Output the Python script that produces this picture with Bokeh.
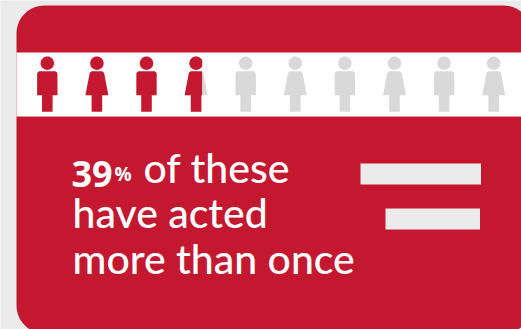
import math

from bokeh.core.properties import value
from bokeh.embed import file_html
from bokeh.models import Range1d
from bokeh.plotting import figure
from bokeh.resources import INLINE

# Chart content
share_percent = 39
person_count = 10
person_kinds = ["m", "f", "m", "f", "m", "f", "m", "f", "m", "f"]
bar_lengths = [120.5, 94.5]
bar_right_edges = [480.5, 479.5]
bar_tops = [163, 208]
bar_thickness = 21

PAGE_W, PAGE_H = 521, 329
RED = "#c41831"
GREY = "#d9d9d9"
PALE = "#ebebeb"
WHITE = "#ffffff"
FONT = "Lato Medium, Lato"
FIGURE_FONT = "Open Sans"

p = figure(
    width=PAGE_W,
    height=PAGE_H,
    x_range=Range1d(0, PAGE_W),
    y_range=Range1d(PAGE_H, 0),
    x_axis_type=None,
    y_axis_type=None,
    toolbar_location=None,
    output_backend="svg",
    min_border=0,
    outline_line_color=None,
    background_fill_color=PALE,
    border_fill_color=PALE,
)
p.grid.visible = False


def arc(cx, cy, r, start_deg, end_deg, steps=14):
    pts = []
    for i in range(steps + 1):
        a = math.radians(start_deg + (end_deg - start_deg) * i / steps)
        pts.append((cx + r * math.cos(a), cy + r * math.sin(a)))
    return pts


def rounded_rect(x0, y0, x1, y1, r):
    pts = []
    pts += arc(x0 + r, y0 + r, r, 180, 270)
    pts += arc(x1 - r, y0 + r, r, 270, 360)
    pts += arc(x1 - r, y1 - r, r, 0, 90)
    pts += arc(x0 + r, y1 - r, r, 90, 180)
    return pts


def clip_right(pts, edge):
    """Keep the part of a polygon that lies left of a vertical edge."""
    out = []
    for i, (ax, ay) in enumerate(pts):
        bx, by = pts[(i + 1) % len(pts)]
        if ax <= edge:
            out.append((ax, ay))
        if (ax <= edge) != (bx <= edge):
            t = (edge - ax) / (bx - ax)
            out.append((edge, ay + t * (by - ay)))
    return out


HEAD_Y, HEAD_R = 62.7, 6.7
BODY_TOP, BODY_BOTTOM, LEG_BOTTOM = 70.7, 94.7, 111.3
LEG_HALF, SHOULDER_R = 5.3, 3.0


def person_shapes(cx, kind):
    head = arc(cx, HEAD_Y, HEAD_R, 0, 360, 40)[:-1]
    if kind == "m":
        top, hem = 10.2, 10.2
    else:
        top, hem = 7.4, 11.5
    body = arc(cx - top + SHOULDER_R, BODY_TOP + SHOULDER_R, SHOULDER_R, 190, 270, 6)
    body += arc(cx + top - SHOULDER_R, BODY_TOP + SHOULDER_R, SHOULDER_R, 270, 350, 6)
    body += [
        (cx + hem, BODY_BOTTOM),
        (cx + LEG_HALF, BODY_BOTTOM),
        (cx + LEG_HALF, LEG_BOTTOM),
        (cx - LEG_HALF, LEG_BOTTOM),
        (cx - LEG_HALF, BODY_BOTTOM),
        (cx - hem, BODY_BOTTOM),
    ]
    return head, body


def fill(pts, color):
    p.patch([q[0] for q in pts], [q[1] for q in pts],
            fill_color=color, line_color=None)


# Card and the white band holding the people row
fill(rounded_rect(16, 5, 531, 333, 28), RED)
p.quad(left=[16], right=[PAGE_W], top=[52], bottom=[116],
       fill_color=WHITE, line_color=None)

# One person stands for a tenth of the total; the filled part follows the share
FIRST_X, STEP_X, FILL_SPAN = 46.8, 49.6, 15.0
filled = share_percent / 100 * person_count
for i in range(person_count):
    cx = FIRST_X + i * STEP_X
    head, body = person_shapes(cx, person_kinds[i])
    amount = max(0.0, min(1.0, filled - i))
    if amount < 1:
        fill(head, GREY)
        fill(body, GREY)
    if amount > 0:
        if amount < 1:
            edge = cx + (amount - 0.5) * FILL_SPAN
            head, body = clip_right(head, edge), clip_right(body, edge)
        fill(head, RED)
        fill(body, RED)

# Pale bars on the right
p.quad(
    left=[r - n for r, n in zip(bar_right_edges, bar_lengths)],
    right=bar_right_edges,
    top=bar_tops,
    bottom=[t + bar_thickness for t in bar_tops],
    fill_color=PALE,
    line_color=None,
)


def label(x, y, text, size, style="normal", font=FONT):
    p.text(
        x=[x], y=[y], text=[text],
        text_font=value(font),
        text_font_size=f"{size}px",
        text_font_style=style,
        text_color=WHITE,
        text_baseline="alphabetic",
        text_align="left",
    )


label(71, 173, f"{share_percent}", 36, "bold", FIGURE_FONT)
label(114, 173, "%", 19, "bold", FIGURE_FONT)
label(143, 167, "of these", 41)
label(72, 212, "have acted", 41)
label(72, 258, "more than once", 41)

open("out.html", "w").write(file_html(p, INLINE))
